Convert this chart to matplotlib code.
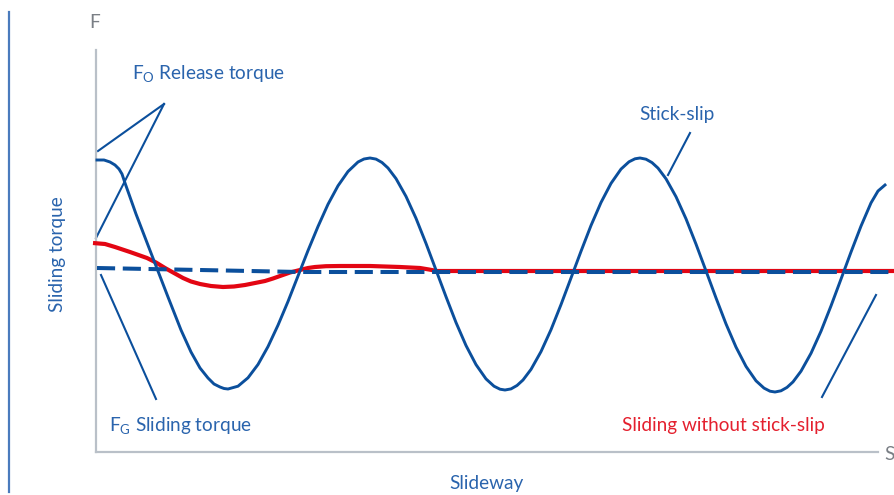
#!/usr/bin/env python3
# -*- coding: utf-8 -*-
"""
Stick-slip sketch: sliding torque versus slideway
"""

import matplotlib
matplotlib.use("Agg")
import matplotlib.pyplot as plt

plt.rcParams['font.family'] = ['Lato', 'DejaVu Sans']
plt.rcParams['mathtext.fontset'] = 'custom'
plt.rcParams['mathtext.rm'] = 'Lato'

BLUE = '#0b4f9c'
TEXT_BLUE = '#2a64ad'
RED = '#e30613'
GREY = '#b9c0c8'

# stick-slip curve (slideway, torque)
stick_x = [1, 8, 14, 19, 23, 26, 29, 40, 55, 72, 85, 95, 104, 112, 118, 124,
           128, 132, 142, 152, 162, 172, 182, 192, 202, 212, 222, 232, 242,
           252, 262, 268, 274, 280, 286, 292, 300, 310, 320, 330, 340, 350,
           360, 370, 380, 390, 398, 404, 409, 415, 421, 427, 435, 445, 455,
           465, 475, 485, 495, 505, 515, 525, 533, 539, 544, 550, 556, 562,
           570, 580, 590, 600, 610, 620, 630, 640, 650, 660, 668, 674, 679,
           685, 691, 697, 705, 715, 725, 735, 745, 755, 765, 775, 782, 789]
stick_y = [292, 292, 290, 287, 283, 278, 269, 238, 199, 155, 122, 100, 84,
           74, 68, 65, 63.5, 63, 65.8, 74.2, 87.5, 105.4, 126.8, 150.5, 176,
           201.4, 225.5, 247.7, 266.2, 280.5, 290, 293, 294, 292.9, 289.5,
           284, 273.4, 255.6, 233.7, 208.6, 182, 155.3, 129.5, 106.5, 87.4,
           73.1, 65.8, 62.8, 62, 63.1, 66.5, 72, 82.6, 100.4, 122.3, 147.4,
           174, 200.7, 226.5, 249.5, 268.6, 282.9, 290.2, 293.2, 294, 292.8,
           289.4, 283.9, 273.2, 255.3, 233.2, 207.9, 181.1, 154.1, 128.1,
           104.9, 85.6, 71.2, 63.9, 60.8, 60, 61.2, 64.6, 70.1, 80.8, 98.7,
           120.8, 146.1, 172.9, 199.9, 225.9, 249.1, 261, 267]

# sliding without stick-slip (red)
smooth_x = [-3, 9, 19, 34, 51, 60, 69, 78, 87, 95, 104, 115, 127, 138, 149,
            159, 169, 177, 184, 194, 204, 212, 219, 230, 244, 274, 304, 324,
            333, 341, 799]
smooth_y = [209, 208, 205, 200, 194, 189.5, 184, 179, 174, 170.5, 168, 166,
            165, 165.5, 167, 169, 171, 173.5, 176, 179.5, 182, 184, 185,
            185.8, 186, 186, 185, 184, 182.5, 181, 181]

# sliding torque level (dashed)
level_x = [1, 104, 204, 799]
level_y = [184, 182, 180, 180]

# pointer lines to the labels
release_x = [[68, 2], [68, 0]]
release_y = [[348, 301], [348, 214]]
sliding_x = [5, 60]
sliding_y = [177, 53]
stick_ptr_x = [594, 572]
stick_ptr_y = [319, 277]
smooth_ptr_x = [726, 780]
smooth_ptr_y = [55, 157]

W, H = 895, 495
fig = plt.figure(figsize=(W / 100, H / 100), dpi=100)
ax = fig.add_axes([96 / W, (H - 452) / H, (878 - 96) / W, (452 - 50) / H])
ax.set_xlim(0, 782)
ax.set_ylim(0, 402)
for side in ('top', 'right'):
    ax.spines[side].set_visible(False)
for side in ('left', 'bottom'):
    ax.spines[side].set_color(GREY)
    ax.spines[side].set_linewidth(1.6)
ax.set_xticks([])
ax.set_yticks([])

ax.plot(smooth_x, smooth_y, color=RED, lw=3.0, clip_on=False,
        solid_capstyle='butt', solid_joinstyle='round', zorder=3)
ax.plot(level_x, level_y, color=BLUE, lw=2.9, clip_on=False,
        dashes=(4.5, 1.9), zorder=4)
ax.plot(stick_x, stick_y, color=BLUE, lw=2.1, clip_on=False,
        solid_joinstyle='round', zorder=5)

for xs, ys in zip(release_x, release_y):
    ax.plot(xs, ys, color=BLUE, lw=1.5, clip_on=False)
ax.plot(sliding_x, sliding_y, color=BLUE, lw=1.5, clip_on=False)
ax.plot(stick_ptr_x, stick_ptr_y, color=BLUE, lw=1.5, clip_on=False)
ax.plot(smooth_ptr_x, smooth_ptr_y, color=BLUE, lw=1.5, clip_on=False)


def fx(px):
    return px / W


def fy(py):
    return 1 - py / H


fs = 13.7
fig.text(fx(132), fy(74), r'F$_{\mathrm{O}}$ Release torque', color=TEXT_BLUE,
         fontsize=fs, va='center', ha='left')
fig.text(fx(639), fy(115), 'Stick-slip', color=TEXT_BLUE,
         fontsize=fs, va='center', ha='left')
fig.text(fx(109), fy(426), r'F$_{\mathrm{G}}$ Sliding torque', color=TEXT_BLUE,
         fontsize=fs, va='center', ha='left')
fig.text(fx(622), fy(425), 'Sliding without stick-slip', color='#e4202e',
         fontsize=fs, va='center', ha='left')
fig.text(fx(89), fy(22), 'F', color='#7a7f85', fontsize=fs,
         va='center', ha='left')
fig.text(fx(884), fy(455), 'S', color='#7a7f85', fontsize=fs,
         va='center', ha='left')
fig.text(fx(58), fy(254), 'Sliding torque', color=TEXT_BLUE, fontsize=fs,
         rotation=90, va='center', ha='center')
fig.text(fx(486), fy(483), 'Slideway', color=TEXT_BLUE, fontsize=fs,
         va='center', ha='center')

# left margin rule
fig.add_artist(plt.Line2D([fx(9), fx(9)], [fy(12), fy(492)],
                          color='#4a7bbd', lw=1.6))

fig.savefig('out.png', dpi=100)
